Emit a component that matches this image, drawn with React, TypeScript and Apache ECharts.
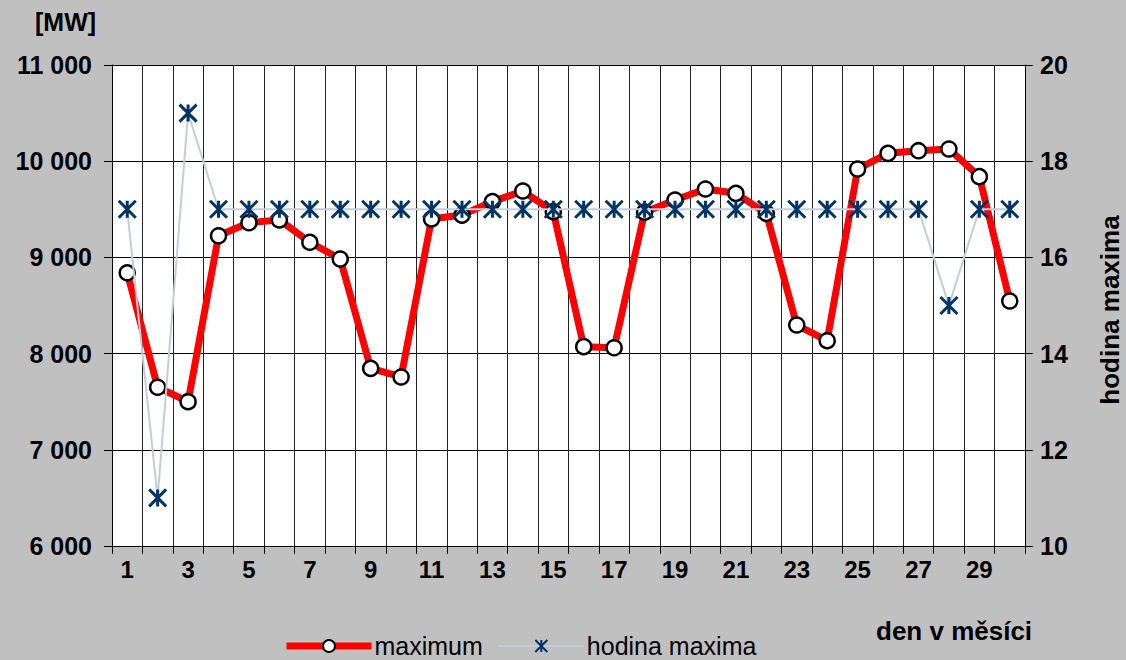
import React, { useEffect, useRef } from "react";
import * as echarts from "echarts";

const days = Array.from({ length: 30 }, (_, i) => String(i + 1));
const maximumMW = [
  8840, 7650, 7500, 9225, 9360, 9390, 9157, 8983, 7847, 7757,
  9400, 9440, 9580, 9690, 9475, 8072, 8061, 9470, 9597, 9711,
  9666, 9458, 8297, 8134, 9919, 10082, 10109, 10127, 9839, 8547,
];
const hourOfMax = [
  17, 11, 19, 17, 17, 17, 17, 17, 17, 17,
  17, 17, 17, 17, 17, 17, 17, 17, 17, 17,
  17, 17, 17, 17, 17, 17, 17, 15, 17, 17,
];
const leftTicks = { min: 6000, max: 11000, step: 1000 };
const rightTicks = { min: 10, max: 20, step: 2 };

const FONT = "Liberation Sans, Arial, sans-serif";

export default function App() {
  const ref = useRef<HTMLDivElement>(null);
  useEffect(() => {
    if (!ref.current) return;
    const chart = echarts.init(ref.current, null, { renderer: "svg" });
    const fmt = (v: number) =>
      String(v).replace(/\B(?=(\d{3})+(?!\d))/g, " ");
    chart.setOption({
      animation: false,
      backgroundColor: "#C0C0C0",
      textStyle: { fontFamily: FONT },
      grid: { left: 112, right: 101, top: 65, bottom: 114, show: true, backgroundColor: "#fff", borderWidth: 0 },
      legend: {
        left: 278,
        top: 628,
        itemWidth: 85,
        itemHeight: 15,
        itemGap: 15,
        lineStyle: { width: "inherit" },
        textStyle: { fontSize: 25, lineHeight: 26, color: "#000", fontFamily: FONT, padding: [0, 0, 0, -2] },
        data: ["maximum", "hodina maxima"],
      },
      xAxis: {
        type: "category",
        data: days,
        boundaryGap: true,
        axisLine: { lineStyle: { color: "#000", width: 1 } },
        axisTick: { show: true, interval: 0, length: 8, inside: false, lineStyle: { color: "#000" } },
        axisLabel: { interval: 1, fontSize: 24, fontWeight: "bold", color: "#000", margin: 11, fontFamily: FONT },
        splitLine: { show: true, interval: 0, lineStyle: { color: "#222", width: 1 } },
      },
      yAxis: [
        {
          type: "value",
          min: leftTicks.min,
          max: leftTicks.max,
          interval: leftTicks.step,
          axisLine: { show: true, lineStyle: { color: "#000" } },
          axisTick: { show: true, length: 8, lineStyle: { color: "#000" } },
          axisLabel: { fontSize: 25, fontWeight: "bold", color: "#000", margin: 20, formatter: fmt, fontFamily: FONT },
          splitLine: { show: true, lineStyle: { color: "#000", width: 1 } },
        },
        {
          type: "value",
          min: rightTicks.min,
          max: rightTicks.max,
          interval: rightTicks.step,
          position: "right",
          axisLine: { show: true, lineStyle: { color: "#000" } },
          axisTick: { show: true, length: 8, lineStyle: { color: "#000" } },
          axisLabel: { fontSize: 25, fontWeight: "bold", color: "#000", margin: 15, fontFamily: FONT },
          splitLine: { show: false },
        },
      ],
      graphic: [
        { type: "text", left: 35, top: 9, style: { text: "[MW]", fontSize: 25, fontWeight: "bold", fill: "#000", fontFamily: FONT } },
        { type: "text", left: 876, top: 618, style: { text: "den v měsíci", fontSize: 26, fontWeight: "bold", fill: "#000", fontFamily: FONT } },
        {
          type: "text",
          x: 1110,
          y: 310,
          rotation: Math.PI / 2,
          style: { text: "hodina maxima", fontSize: 26, fontWeight: "bold", fill: "#000", fontFamily: FONT, align: "center", verticalAlign: "middle" },
        },
      ],
      series: [
        {
          name: "hodina maxima",
          type: "line",
          yAxisIndex: 1,
          data: hourOfMax,
          symbol: "path://M0,0 L10,10 M10,0 L0,10 M5,0 L5,10",
          symbolSize: 17,
          showAllSymbol: true,
          lineStyle: { color: "#C3CEDB", width: 2 },
          itemStyle: { color: "none", borderColor: "#003366", borderWidth: 3 },
          z: 3,
        },
        {
          name: "maximum",
          type: "line",
          yAxisIndex: 0,
          data: maximumMW,
          symbol: "circle",
          symbolSize: 15,
          showAllSymbol: true,
          lineStyle: { color: "#FF0000", width: 7 },
          itemStyle: { color: "#fff", borderColor: "#000", borderWidth: 2.5 },
          z: 2,
        },
      ],
    });
    return () => chart.dispose();
  }, []);
  return <div ref={ref} style={{ width: 1126, height: 660, position: "absolute", left: 0, top: 0 }} />;
}
